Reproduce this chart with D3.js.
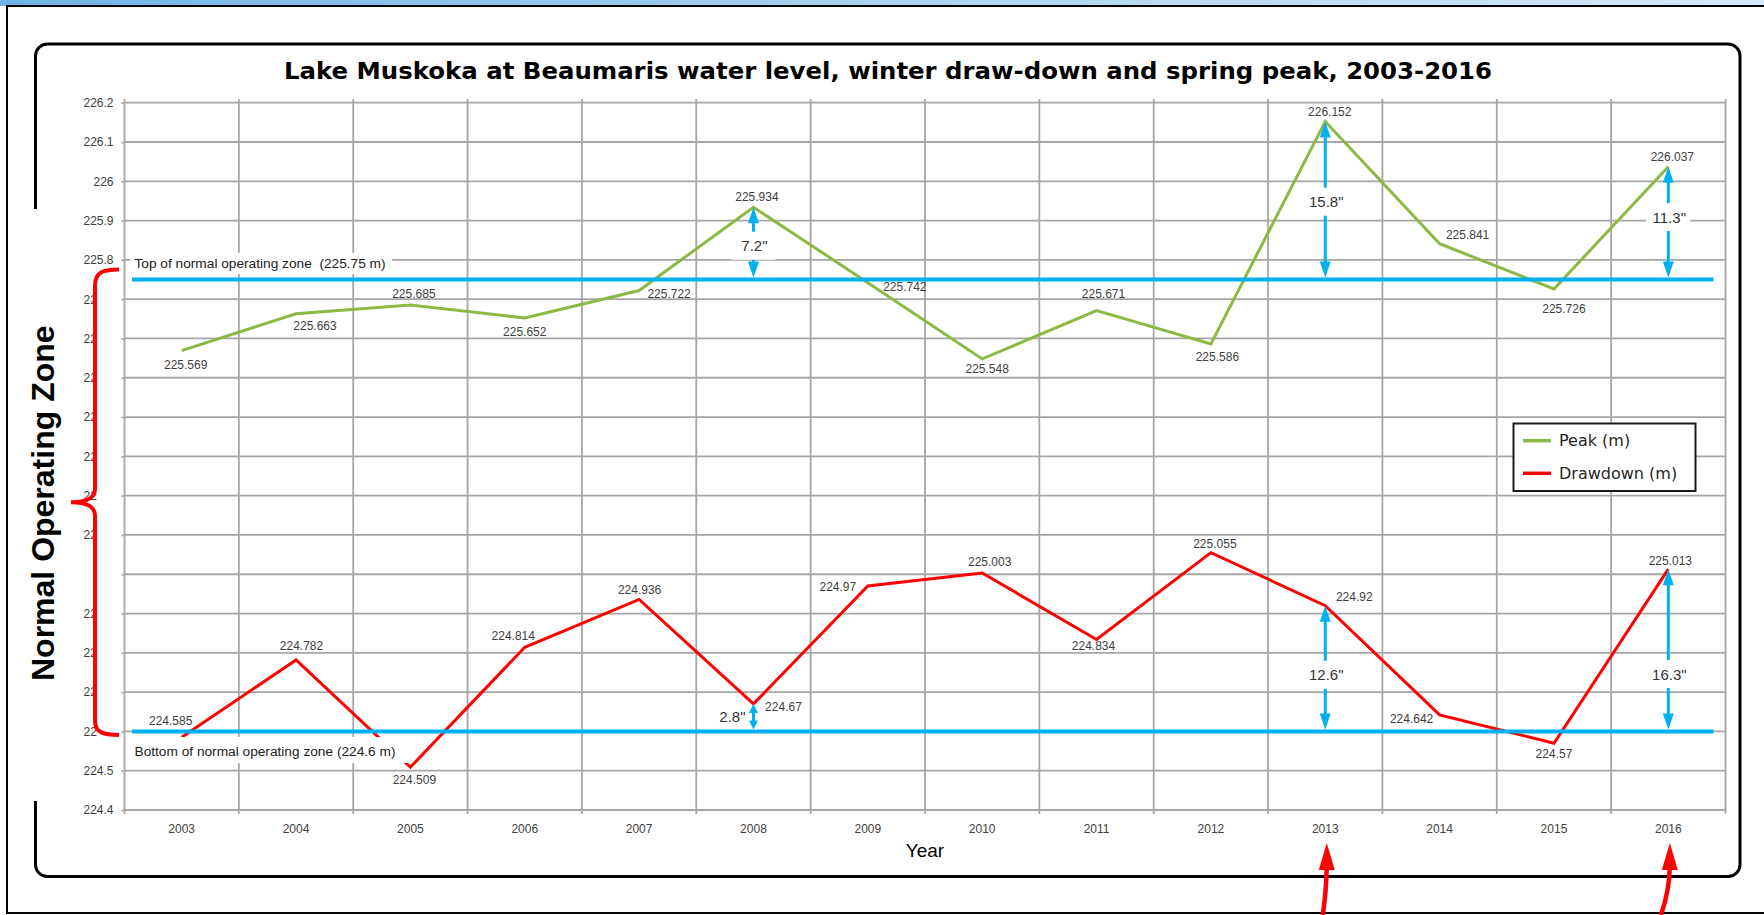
<!DOCTYPE html>
<html>
<head>
<meta charset="utf-8">
<script src="https://d3js.org/d3.v7.min.js"></script>
<style>
 body {margin: 0; background: #fff;}
 svg text {font-family: "Liberation Sans", Arial, sans-serif;}
</style>
</head>
<body>
<svg id="chart" width="1764" height="915"></svg>
<script>
// values
const years = ["2003","2004","2005","2006","2007","2008","2009","2010","2011","2012","2013","2014","2015","2016"];
const peak = [225.569, 225.663, 225.685, 225.652, 225.722, 225.934, 225.742, 225.548, 225.671, 225.586, 226.152, 225.841, 225.726, 226.037];
const drawdown = [224.585, 224.782, 224.509, 224.814, 224.936, 224.67, 224.97, 225.003, 224.834, 225.055, 224.92, 224.642, 224.57, 225.013];
const yTicks = [226.2, 226.1, 226.0, 225.9, 225.8, 225.7, 225.6, 225.5, 225.4, 225.3, 225.2, 225.1, 225.0, 224.9, 224.8, 224.7, 224.6, 224.5, 224.4];
const zoneTop = 225.75, zoneBottom = 224.6;
const seriesNames = ["Peak (m)", "Drawdown (m)"];
const title = "Lake Muskoka at Beaumaris water level, winter draw-down and spring peak, 2003-2016";

// gap annotations (arrow from a data point to the zone line)
const gapSeries = ["peak", "peak", "peak", "drawdown", "drawdown", "drawdown"];
const gapYears = ["2008", "2013", "2016", "2008", "2013", "2016"];
const gapText = ['7.2"', '15.8"', '11.3"', '2.8"', '12.6"', '16.3"'];
const gapLabelAt = [225.836, 225.948, 225.909, 224.639, 224.744, 224.746];
const markedYears = ["2013", "2016"];

// label placement (px, relative to the point)
const peakLabelOff = [[4,14],[19,12],[3.5,-11],[0,14],[30,3],[3.5,-10.5],[37,4.5],[5,10],[7,-17],[6.5,13.5],[4.5,-9.5],[28,-9],[10,20],[4,-10]];
const drawLabelOff = [[-11,-16.5],[5.5,-14],[4,12.5],[-11.5,-11.5],[0.5,-9.5],[30,3],[-30,1],[7.5,-11],[-3,7],[4,-8.5],[29,-8.5],[-28,4],[0,10.5],[2,-8.5]];

const svg = d3.select("#chart");
const green = "#8db843", red = "#ff0000", blue = "#00b0f0", grid = "#a6a6a6";

const x = d3.scaleBand().domain(years).range([124.5, 1725.5]);
const y = d3.scaleLinear().domain([224.4, 226.2]).range([810, 102.7]);
const cx = d => x(d) + x.bandwidth() / 2;

// background pieces
svg.append("rect").attr("x", 0).attr("y", 0).attr("width", 1764).attr("height", 915).attr("fill", "#fff");
const sky = svg.append("defs").append("linearGradient").attr("id", "sky");
sky.append("stop").attr("offset", "0%").attr("stop-color", "#6fb3e6");
sky.append("stop").attr("offset", "50%").attr("stop-color", "#a9d2f0");
sky.append("stop").attr("offset", "100%").attr("stop-color", "#d6e9f7");
svg.append("rect").attr("x", 0).attr("y", 0).attr("width", 1764).attr("height", 6).attr("fill", "url(#sky)");
svg.append("rect").attr("x", 7).attr("y", 6).attr("width", 1780).attr("height", 907)
  .attr("fill", "#fff").attr("stroke", "#000").attr("stroke-width", 2);
svg.append("rect").attr("x", 35.5).attr("y", 44).attr("width", 1704.5).attr("height", 832.5).attr("rx", 12)
  .attr("fill", "#fff").attr("stroke", "#000").attr("stroke-width", 3);

svg.append("text").attr("x", 888).attr("y", 79).attr("text-anchor", "middle")
  .attr("textLength", 1208).attr("lengthAdjust", "spacingAndGlyphs")
  .style("font-family", "'DejaVu Sans', Verdana, sans-serif").style("font-weight", "bold")
  .style("font-size", "23px").attr("fill", "#000").text(title);

// grid
const g = svg.append("g");
g.selectAll(".hg").data(yTicks).enter().append("line")
  .attr("x1", 124.5).attr("x2", 1725.5).attr("y1", d => y(d)).attr("y2", d => y(d))
  .attr("stroke", grid).attr("stroke-width", 1.8);
g.selectAll(".vg").data(years.map(d => x(d)).concat([x.range()[1]])).enter().append("line")
  .attr("x1", d => d).attr("x2", d => d).attr("y1", 99).attr("y2", 814)
  .attr("stroke", grid).attr("stroke-width", 1.8);

// axes
const ay = svg.append("g").attr("transform", "translate(124.5,0)")
  .call(d3.axisLeft(y).tickValues(yTicks).tickFormat(d3.format("~f")).tickSize(3).tickPadding(8));
ay.select(".domain").remove();
ay.selectAll("line").attr("stroke", grid).attr("stroke-width", 1.8);
ay.selectAll("text").attr("fill", "#404040").style("font-size", "12px");

const ax = svg.append("g").attr("transform", "translate(0,810)")
  .call(d3.axisBottom(x).tickSize(0).tickPadding(14));
ax.select(".domain").remove();
ax.selectAll("text").attr("fill", "#404040").style("font-size", "12px");

svg.append("text").attr("x", 925).attr("y", 857).attr("text-anchor", "middle")
  .style("font-size", "19px").attr("fill", "#000").text("Year");

// series
const line = d3.line().x((d, i) => cx(years[i])).y(d => y(d));
svg.append("path").attr("d", line(peak)).attr("fill", "none").attr("stroke", green).attr("stroke-width", 3);
svg.append("path").attr("d", line(drawdown)).attr("fill", "none").attr("stroke", red).attr("stroke-width", 3);

// zone labels with white backing
svg.append("rect").attr("x", 130).attr("y", 253).attr("width", 262).attr("height", 21).attr("fill", "#fff");
svg.append("text").attr("x", 134.5).attr("y", y(zoneTop) - 16).attr("dominant-baseline", "central")
  .style("font-size", "13.7px").attr("fill", "#222").text("Top of normal operating zone\u00a0\u00a0(225.75 m)");
svg.append("rect").attr("x", 130).attr("y", 737).attr("width", 278).attr("height", 26).attr("fill", "#fff");
svg.append("text").attr("x", 134.5).attr("y", y(zoneBottom) + 20).attr("dominant-baseline", "central")
  .style("font-size", "13.7px").attr("fill", "#222").text("Bottom of normal operating zone (224.6 m)");

// zone lines
svg.selectAll(".zone").data([zoneTop, zoneBottom]).enter().append("line")
  .attr("x1", 132).attr("x2", 1713.5).attr("y1", d => y(d)).attr("y2", d => y(d))
  .attr("stroke", blue).attr("stroke-width", 4);

// data labels
const lab = svg.append("g").style("font-size", "12px").attr("fill", "#404040");
lab.selectAll(".pl").data(peak).enter().append("text")
  .attr("x", (d, i) => cx(years[i]) + peakLabelOff[i][0]).attr("y", (d, i) => y(d) + peakLabelOff[i][1])
  .attr("text-anchor", "middle").attr("dominant-baseline", "central").text(d => d);
lab.selectAll(".dl").data(drawdown).enter().append("text")
  .attr("x", (d, i) => cx(years[i]) + drawLabelOff[i][0]).attr("y", (d, i) => y(d) + drawLabelOff[i][1])
  .attr("text-anchor", "middle").attr("dominant-baseline", "central").text(d => d);

// gap arrows
gapYears.forEach((yr, k) => {
  const i = years.indexOf(yr);
  const v = gapSeries[k] === "peak" ? peak[i] : drawdown[i];
  const zone = gapSeries[k] === "peak" ? zoneTop : zoneBottom;
  const ax0 = cx(yr), top = y(v), bot = y(zone) - 2;
  const small = (bot - top) < 40;
  const hw = small ? 4.5 : 5.5, hl = small ? 9 : 16;
  svg.append("line").attr("x1", ax0).attr("x2", ax0).attr("y1", top + hl - 1).attr("y2", bot - hl + 1)
    .attr("stroke", blue).attr("stroke-width", 3);
  svg.append("path").attr("fill", blue)
    .attr("d", `M${ax0},${top} L${ax0 - hw},${top + hl} L${ax0 + hw},${top + hl} Z`);
  svg.append("path").attr("fill", blue)
    .attr("d", `M${ax0},${bot} L${ax0 - hw},${bot - hl} L${ax0 + hw},${bot - hl} Z`);
  const ly = y(gapLabelAt[k]);
  if (small) {
    svg.append("text").attr("x", ax0 - 21).attr("y", ly).attr("text-anchor", "middle")
      .attr("dominant-baseline", "central").style("font-size", "15px").attr("fill", "#333").text(gapText[k]);
  } else {
    svg.append("rect").attr("x", ax0 - 22).attr("y", ly - 14).attr("width", 44).attr("height", 28).attr("fill", "#fff");
    svg.append("text").attr("x", ax0 + 1).attr("y", ly).attr("text-anchor", "middle")
      .attr("dominant-baseline", "central").style("font-size", "15px").attr("fill", "#333").text(gapText[k]);
  }
});

// legend
const leg = svg.append("g");
leg.append("rect").attr("x", 1513.5).attr("y", 423.5).attr("width", 182).attr("height", 67.5)
  .attr("fill", "#fff").attr("stroke", "#1a1a1a").attr("stroke-width", 2);
[green, red].forEach((c, k) => {
  const ly = 440.7 + k * 32.6;
  leg.append("line").attr("x1", 1523).attr("x2", 1551).attr("y1", ly).attr("y2", ly)
    .attr("stroke", c).attr("stroke-width", 3.5);
  leg.append("text").attr("x", 1559).attr("y", ly).attr("dominant-baseline", "central")
    .style("font-family", "'DejaVu Sans', Verdana, sans-serif").style("font-size", "16px")
    .attr("fill", "#262626").text(seriesNames[k]);
});

// overlay: normal operating zone brace and caption
svg.append("rect").attr("x", 26).attr("y", 209).attr("width", 36).attr("height", 592).attr("fill", "#fff");
svg.append("rect").attr("x", 97).attr("y", 268).attr("width", 23).attr("height", 474).attr("fill", "#fff");
const bt = y(zoneTop) - 10, bb = y(zoneBottom) + 3.5, bm = (bt + bb) / 2;
svg.append("path").attr("fill", "none").attr("stroke", red).attr("stroke-width", 4)
  .attr("d", `M119,${bt} C104,${bt} 95,${bt + 2} 95,${bt + 16} L95,${bm - 14} C95,${bm - 4} 87,${bm} 71,${bm}
    C87,${bm} 95,${bm + 4} 95,${bm + 14} L95,${bb - 14} C95,${bb - 2} 104,${bb} 119,${bb}`);
svg.append("text").attr("transform", `translate(53.6,${bm + 1}) rotate(-90)`).attr("text-anchor", "middle")
  .style("font-size", "32px").style("font-weight", "bold").attr("fill", "#000").text("Normal Operating Zone");

// red pointer arrows at the bottom
const lean = [-4, -9];
markedYears.forEach((yr, k) => {
  const tx = cx(yr) + 1.5;
  svg.append("path").attr("fill", "none").attr("stroke", red).attr("stroke-width", 4.5)
    .attr("d", `M${tx},866 Q${tx - 0.5},892 ${tx + lean[k]},915`);
  svg.append("path").attr("fill", red).attr("d", `M${tx},843 L${tx - 8},870 L${tx + 8},870 Z`);
});
</script>
</body>
</html>
